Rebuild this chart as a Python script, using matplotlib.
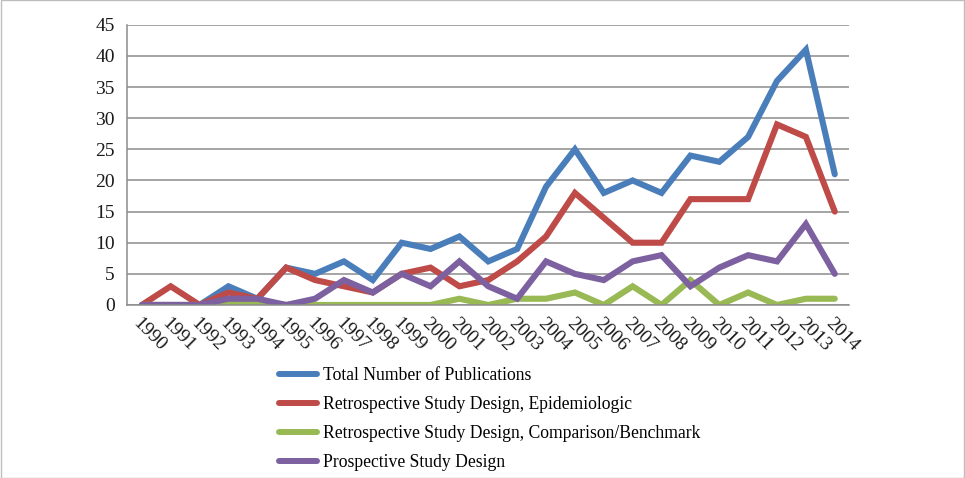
import matplotlib
matplotlib.use('Agg')
import matplotlib.pyplot as plt
from matplotlib.patches import Rectangle

years = [str(y) for y in range(1990, 2015)]
total = [0, 0, 0, 3, 1, 6, 5, 7, 4, 10, 9, 11, 7, 9, 19, 25, 18, 20, 18, 24, 23, 27, 36, 41, 21]
retro_epi = [0, 3, 0, 2, 1, 6, 4, 3, 2, 5, 6, 3, 4, 7, 11, 18, 14, 10, 10, 17, 17, 17, 29, 27, 15]
retro_comp = [0, 0, 0, 0.5, 0.5, 0, 0, 0, 0, 0, 0, 1, 0, 1, 1, 2, 0, 3, 0, 4, 0, 2, 0, 1, 1]
prospective = [0, 0, 0, 1, 1, 0, 1, 4, 2, 5, 3, 7, 3, 1, 7, 5, 4, 7, 8, 3, 6, 8, 7, 13, 5]

series = [
    ("Total Number of Publications", total, '#4a7ebb'),
    ("Retrospective Study Design, Epidemiologic", retro_epi, '#be4b48'),
    ("Retrospective Study Design, Comparison/Benchmark", retro_comp, '#98b954'),
    ("Prospective Study Design", prospective, '#7d60a0'),
]

plt.rcParams['font.family'] = ['Liberation Serif', 'DejaVu Serif']

fig = plt.figure(figsize=(9.65, 4.78), dpi=100)
ax = fig.add_axes([0.132, 0.362, 0.748, 0.586])

x = list(range(len(years)))
for label, vals, col in series:
    ax.plot(x, vals, color=col, linewidth=4.4, label=label, solid_joinstyle='miter', solid_capstyle='round')

ax.set_xlim(-0.5, len(years) - 0.5)
ax.set_ylim(0, 45)
ax.set_yticks(range(0, 46, 5))
ax.set_xticks(x)
ax.set_xticklabels(years, rotation=-45, ha='left', va='top', rotation_mode='anchor')
ax.tick_params(axis='both', length=0, labelsize=14, colors='#1a1a1a')
ax.tick_params(axis='y', pad=9)
ax.tick_params(axis='x', pad=7)
ax.grid(axis='y', color='#8c8c8c', linewidth=1.1)
ax.set_axisbelow(True)
for s in ['top', 'right']:
    ax.spines[s].set_visible(False)
for s in ['left', 'bottom']:
    ax.spines[s].set_color('#8c8c8c')
    ax.spines[s].set_linewidth(1.1)

leg = fig.legend(loc='upper left', frameon=False,
                 fontsize=12.7, handlelength=2.15, labelspacing=0.68, handletextpad=0.35,
                 borderaxespad=0)
for h in leg.get_lines():
    h.set_linewidth(4.3)
    h.set_solid_capstyle('round')
leg.set_bbox_to_anchor((0.282, 0.247), transform=fig.transFigure)

fig.add_artist(Rectangle((0.001, 0.001), 0.998, 0.998, transform=fig.transFigure,
                         fill=False, edgecolor='#bdbdbd', linewidth=1))

fig.savefig('out.png', dpi=100)
